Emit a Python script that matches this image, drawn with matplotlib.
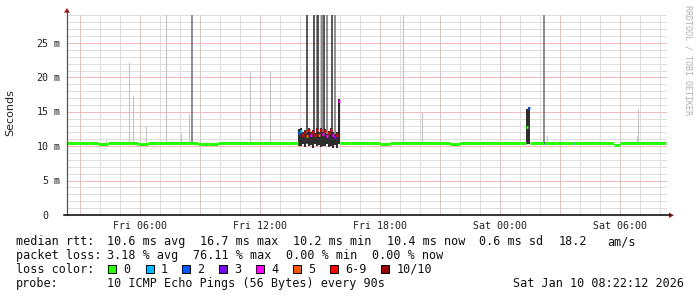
"""
Smokeping latency graph (rrdtool look): median rtt coloured by packet loss,
grey "smoke" for the spread of the individual pings.
"""
import matplotlib

matplotlib.use("Agg")
import matplotlib.pyplot as plt
from matplotlib.lines import Line2D
from matplotlib.patches import Rectangle, Polygon

W, H = 697, 297
MONO = "DejaVu Sans Mono"

# ── Data (time in hours since Fri 00:00, latency in ms) ──────────────────────
X_START, X_END = 2.37, 32.37
Y_MAX = 29.07
HOUR_TICKS = [6, 12, 18, 24, 30]
HOUR_LABELS = ["Fri 06:00", "Fri 12:00", "Fri 18:00", "Sat 00:00", "Sat 06:00"]
Y_TICKS = [0, 5, 10, 15, 20, 25]

# median rtt samples: start time, value, loss class (index into LOSS_COLORS)
MED_T = [2.37, 2.90, 3.40, 3.90, 4.40, 4.90, 5.40, 5.90, 6.40, 6.90, 7.40, 7.90,
         8.40, 8.90, 9.40, 9.90, 10.40, 10.90, 11.40, 11.90, 12.40, 12.90, 13.40,
         13.92, 14.02, 14.12, 14.22, 14.32, 14.42, 14.52, 14.62, 14.72, 14.82,
         14.92, 15.02, 15.12, 15.22, 15.32, 15.42, 15.52, 15.62, 15.72, 15.82, 15.92,
         16.04, 16.50, 17.00, 17.50, 18.00, 18.50, 19.00, 19.50, 20.00, 20.50, 21.00,
         21.50, 22.00, 22.50, 23.00, 23.50, 24.00, 24.50, 25.00, 25.33, 25.43, 25.53,
         26.00, 26.20, 26.28, 26.80, 27.30, 27.70, 27.78, 28.30, 28.80, 29.30, 29.70,
         30.00, 30.50, 31.00, 31.50, 32.00]
MED_V = [10.40, 10.45, 10.40, 10.38, 10.45, 10.40, 10.40, 10.38, 10.40, 10.45, 10.40, 10.40,
         10.45, 10.35, 10.38, 10.40, 10.45, 10.40, 10.40, 10.45, 10.40, 10.40, 10.45,
         11.9, 12.2, 11.6, 12.1, 11.5, 12.3, 11.7, 12.0, 11.6, 12.3,
         11.7, 12.4, 11.8, 12.2, 11.5, 11.9, 12.3, 11.6, 11.4, 11.7, 16.6,
         10.40, 10.45, 10.40, 10.40, 10.38, 10.40, 10.45, 10.40, 10.40, 10.45, 10.40,
         10.38, 10.40, 10.40, 10.45, 10.40, 10.40, 10.45, 10.40, 12.8, 15.5, 10.40,
         10.40, 10.40, 10.40, 10.45, 10.40, 10.40, 10.40, 10.40, 10.45, 10.40, 10.15,
         10.40, 10.45, 10.40, 10.40, 10.45]
MED_LOSS = [0] * 23 + [2, 1, 6, 6, 5, 6, 4, 6, 6, 6, 5, 6, 4, 6, 4, 6, 6, 4, 3, 6, 4] + \
           [0] * 19 + [0, 2, 0] + [0, 3, 0, 0, 0, 2, 0, 0, 0, 0, 0, 0, 0, 0, 0, 0]
MED_END = 32.30

# dense smoke (individual pings) where the link misbehaved
SMOKE_T = [13.92, 14.02, 14.12, 14.22, 14.32, 14.42, 14.52, 14.62, 14.72, 14.82, 14.92,
           15.02, 15.12, 15.22, 15.32, 15.42, 15.52, 15.62, 15.72, 15.82, 15.92, 25.33, 25.43]
SMOKE_LO = [10.1, 10.0, 10.3, 9.9, 10.4, 10.0, 10.2, 9.8, 10.3, 10.0, 10.2,
            9.9, 10.1, 10.0, 10.3, 9.9, 10.1, 9.7, 10.2, 9.8, 10.3, 10.3, 10.3]
SMOKE_HI = [12.5, 12.6, 12.0, 12.4, 11.9, 12.6, 12.1, 12.3, 11.9, 12.6, 12.0,
            12.7, 12.1, 12.5, 11.8, 12.2, 12.6, 12.0, 11.8, 12.1, 16.8, 15.4, 15.7]

# single-ping smoke spikes: time, top (ms), shade (0 light .. 2 dark)
SPIKE_T = [4.30, 5.47, 5.67, 6.33, 7.33, 8.07, 8.48, 8.63, 9.02, 11.53, 12.53,
           14.39, 14.74, 14.86, 14.94, 15.02, 15.10, 15.24, 15.39, 15.64, 15.77,
           19.19, 19.19, 20.10, 26.24, 26.37, 30.85, 30.94]
SPIKE_TOP = [10.9, 22.3, 17.4, 12.9, 29.5, 11.9, 14.7, 29.5, 11.0, 20.9, 20.9,
             29.5, 29.5, 29.5, 29.5, 29.5, 29.5, 29.5, 29.5, 29.5, 29.5,
             29.5, 24.0, 15.0, 29.5, 11.6, 11.5, 15.4]
SPIKE_SHADE = [0, 0, 0, 0, 0, 0, 0, 1, 0, 0, 0,
               2, 2, 1, 2, 0, 1, 2, 1, 2, 1,
               0, 0, 0, 1, 0, 0, 0]

LOSS_COLORS = ["#26ff00", "#00b8ff", "#0059ff", "#7e00ff", "#ff00ff", "#ff5500",
               "#ff0000", "#a10000"]
LOSS_LABELS = ["0", "1", "2", "3", "4", "5", "6-9", "10/10"]

SHADES = ["#c4c4c4", "#7a7a7a", "#3a3a3a"]
GRID_MINOR = "#dedede"
GRID_MAJOR = "#f2bcbc"
ARROW = "#9b1b1b"


def fx(px):
    return px / W


def fy(py):
    return 1 - py / H


fig = plt.figure(figsize=(W / 100, H / 100), dpi=100)
fig.patch.set_facecolor("white")
ax = fig.add_axes([fx(67), fy(215), 600 / W, 200 / H])
ax.set_xlim(X_START, X_END)
ax.set_ylim(0, Y_MAX)
ax.axis("off")

# ── Grid (faint, reads like rrdtool's 1px dotted grid) ───────────────────────
for h in range(3, 33):
    major = h % 3 == 0
    ax.axvline(h, color=GRID_MAJOR if major else GRID_MINOR, lw=0.72,
               zorder=1 if major else 0.5)
for v in range(1, 30):
    major = v % 5 == 0
    ax.axhline(v, color=GRID_MAJOR if major else GRID_MINOR, lw=0.72,
               zorder=1 if major else 0.5)

# ── Smoke ────────────────────────────────────────────────────────────────────
for t, top, s in zip(SPIKE_T, SPIKE_TOP, SPIKE_SHADE):
    ax.vlines(t, 10.3, top, colors=SHADES[s], lw=0.8 if s == 0 else 1.2, zorder=2)
ax.bar(SMOKE_T, [hi - lo for lo, hi in zip(SMOKE_LO, SMOKE_HI)], bottom=SMOKE_LO,
       width=0.1, align="edge", color="#2e2e2e", edgecolor="none", zorder=3)

# ── Median rtt, coloured by loss (one short dash per sample) ─────────────────
ends = MED_T[1:] + [MED_END]
for t0, t1, v, loss in zip(MED_T, ends, MED_V, MED_LOSS):
    ax.plot([t0, t1], [v, v], color=LOSS_COLORS[loss], lw=2.16,
            solid_capstyle="butt", zorder=4)

# ── Axes lines and arrows ────────────────────────────────────────────────────
fig.add_artist(Line2D([fx(67), fx(67)], [fy(215), fy(12)], color="#555555", lw=0.9))
fig.add_artist(Line2D([fx(64), fx(670)], [fy(215.3), fy(215.3)], color="black", lw=1.1))
fig.add_artist(Polygon([(fx(64), fy(12.7)), (fx(70), fy(12.7)), (fx(67), fy(8))],
                       closed=True, color=ARROW, lw=0))
fig.add_artist(Polygon([(fx(669), fy(212.5)), (fx(669), fy(218)), (fx(674), fy(215.3))],
                       closed=True, color=ARROW, lw=0))

# ── Tick labels ──────────────────────────────────────────────────────────────
for v in Y_TICKS:
    ypx = 215 - v * 200 / Y_MAX + 3.6
    fig.text(fx(48.3), fy(ypx), str(v), ha="right", va="baseline",
             family=MONO, fontsize=7.2, color="#222222")
    if v:
        fig.text(fx(54.0), fy(ypx), "m", ha="left", va="baseline",
                 family=MONO, fontsize=7.2, color="#222222")
for h, lab in zip(HOUR_TICKS, HOUR_LABELS):
    xpx = 67 + (h - X_START) * 600 / (X_END - X_START)
    fig.text(fx(xpx), fy(228.8), lab, ha="center", va="baseline",
             family=MONO, fontsize=7.2, color="#222222")

fig.text(fx(10.5), fy(113), "Seconds", rotation=90, ha="center", va="center",
         family="DejaVu Sans", fontsize=8, color="#222222")
fig.text(fx(688), fy(60), "RRDTOOL / TOBI OETIKER", rotation=270, ha="center",
         va="center", family=MONO, fontsize=6, color="#b0b0b0")

# ── Legend ───────────────────────────────────────────────────────────────────
LEG = dict(family=MONO, fontsize=8.45, color="#111111", va="baseline", ha="left")
for x, s in [(16, "median rtt:"), (107.3, "10.6 ms avg"), (200.3, "16.7 ms max"),
             (293.3, "10.2 ms min"), (386.7, "10.4 ms now"), (479.3, "0.6 ms sd"),
             (558.3, "18.2"), (607.3, "am/s")]:
    fig.text(fx(x), fy(245.3), s, **LEG)
for x, s in [(16, "packet loss:"), (107.3, "3.18 % avg"), (193.4, "76.11 % max"),
             (286.2, "0.00 % min"), (372, "0.00 % now")]:
    fig.text(fx(x), fy(259.1), s, **LEG)
fig.text(fx(16), fy(272.9), "loss color:", **LEG)
SQ_X = [108.3, 145.7, 182.3, 219, 256, 292.7, 330, 381.3]
for sx, c, lab in zip(SQ_X, LOSS_COLORS, LOSS_LABELS):
    fig.add_artist(Rectangle((fx(sx), fy(272.7)), 8 / W, 8 / H, facecolor=c,
                             edgecolor="black", lw=0.72))
    fig.text(fx(sx + 15), fy(272.9), lab, **LEG)
fig.text(fx(16), fy(286.7), "probe:", **LEG)
fig.text(fx(107.3), fy(286.7), "10 ICMP Echo Pings (56 Bytes) every 90s", **LEG)
fig.text(fx(513.3), fy(286.7), "Sat Jan 10 08:22:12 2026", **LEG)

fig.savefig("out.png", dpi=100, facecolor="white")
